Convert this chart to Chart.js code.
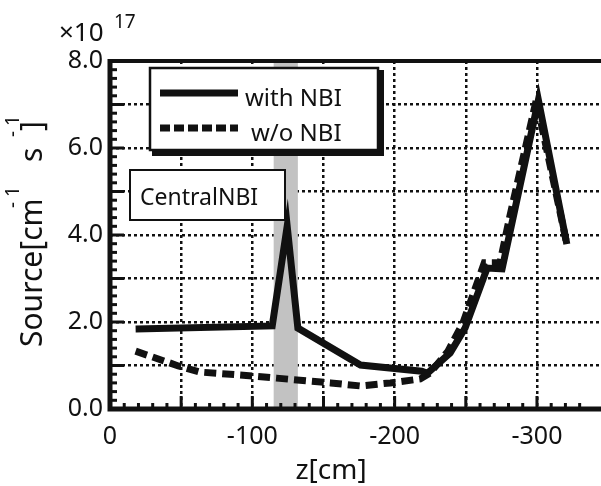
<!DOCTYPE html>
<html>
<head>
<meta charset="utf-8">
<script src="https://cdn.jsdelivr.net/npm/chart.js@4/dist/chart.umd.min.js"></script>
<style>
  body { margin: 0; background: #fff; }
</style>
</head>
<body>
<canvas id="chart" width="601" height="486"></canvas>
<script>
// source along z, in units of 1e17 cm^-1 s^-1
const zWith = [-18, -114, -124.5, -132, -176, -219, -223, -239, -249.5, -265, -275.5, -301, -321];
const sWith = [1.84, 1.91, 4.2, 1.86, 1.01, 0.87, 0.82, 1.29, 1.86, 3.24, 3.22, 7.1, 3.79];

const zWithout = [-18, -48, -63, -100, -117, -155, -176, -197, -218, -225, -237.5, -248, -263, -274, -281, -299.5, -321];
const sWithout = [1.33, 0.99, 0.85, 0.76, 0.71, 0.6, 0.53, 0.6, 0.69, 0.83, 1.33, 1.98, 3.36, 3.36, 4.44, 7.1, 3.79];

const seriesNames = ["with NBI", "w/o NBI"];
const xTickLabels = [0, -100, -200, -300];
const yTickLabels = [0, 2, 4, 6, 8];

// shaded central NBI region
const nbiBand = [-115, -132];
const nbiLabel = "CentralNBI";

const font = "'Noto Sans', 'DejaVu Sans', sans-serif";

function toPoints(xs, ys) {
  return xs.map((x, i) => ({ x: x, y: ys[i] }));
}
function isInt(v) {
  return Math.abs(v - Math.round(v)) < 1e-6;
}

const decor = {
  id: "decor",
  beforeDatasetsDraw(chart) {
    const { ctx, chartArea: a } = chart;
    const xs = chart.scales.x;
    const p1 = xs.getPixelForValue(nbiBand[0]);
    const p2 = xs.getPixelForValue(nbiBand[1]);
    ctx.save();
    ctx.fillStyle = "#c2c2c2";
    ctx.fillRect(Math.min(p1, p2), a.top, Math.abs(p2 - p1), a.bottom - a.top);
    ctx.restore();
  },
  afterDatasetsDraw(chart) {
    const ctx = chart.ctx;
    const ds = chart.data.datasets;
    ctx.save();
    // legend box with drop shadow
    ctx.fillStyle = "#111";
    ctx.fillRect(152, 70, 232, 86);
    ctx.fillStyle = "#fff";
    ctx.fillRect(150, 68, 228, 82);
    ctx.strokeStyle = "#111";
    ctx.lineWidth = 2.5;
    ctx.strokeRect(150, 68, 228, 82);

    ctx.lineWidth = ds[0].borderWidth;
    ctx.setLineDash([]);
    ctx.beginPath(); ctx.moveTo(160, 93); ctx.lineTo(238, 93); ctx.stroke();
    ctx.setLineDash([10, 4]);
    ctx.beginPath(); ctx.moveTo(160, 128); ctx.lineTo(238, 128); ctx.stroke();
    ctx.setLineDash([]);

    ctx.fillStyle = "#111";
    ctx.font = "24px " + font;
    ctx.textBaseline = "alphabetic";
    ctx.fillText(ds[0].label, 245, 106);
    ctx.fillText(ds[1].label, 251, 141);

    // central NBI label
    ctx.fillStyle = "#fff";
    ctx.fillRect(130, 170, 155, 50);
    ctx.strokeStyle = "#111";
    ctx.lineWidth = 2;
    ctx.strokeRect(130, 170, 155, 50);
    ctx.fillStyle = "#111";
    ctx.font = "23px " + font;
    ctx.fillText(nbiLabel, 140, 205);
    ctx.restore();
  },
  afterDraw(chart) {
    const { ctx, chartArea: a } = chart;
    const xs = chart.scales.x, ys = chart.scales.y;
    ctx.save();
    ctx.strokeStyle = "#111";
    ctx.fillStyle = "#111";

    // minor / major ticks on the inside
    ctx.lineWidth = 3;
    xs.ticks.forEach(t => {
      if (!isInt(t.value / 10)) return;
      const px = xs.getPixelForValue(t.value);
      const len = t.value % 50 === 0 ? 13 : 6;
      ctx.beginPath(); ctx.moveTo(px, a.bottom); ctx.lineTo(px, a.bottom - len); ctx.stroke();
    });
    ys.ticks.forEach(t => {
      const py = ys.getPixelForValue(t.value);
      const len = isInt(t.value) ? 14 : 7;
      ctx.beginPath(); ctx.moveTo(a.left, py); ctx.lineTo(a.left + len, py); ctx.stroke();
    });

    // frame
    ctx.lineWidth = 4;
    ctx.beginPath(); ctx.moveTo(a.left, a.top); ctx.lineTo(601, a.top); ctx.stroke();
    ctx.lineWidth = 5;
    ctx.beginPath();
    ctx.moveTo(a.left, a.top - 2); ctx.lineTo(a.left, a.bottom); ctx.lineTo(601, a.bottom);
    ctx.stroke();

    // exponent
    ctx.textBaseline = "alphabetic";
    ctx.font = "26px " + font;
    ctx.fillText("×10", 59, 41);
    ctx.font = "19px " + font;
    ctx.fillText("17", 114, 28);

    // x title
    ctx.font = "28px " + font;
    ctx.textAlign = "center";
    ctx.fillText("z[cm]", 331, 479);
    ctx.textAlign = "left";

    // y title, rotated, with superscripts
    function vText(str, size, bx, sy, spacing) {
      ctx.save();
      ctx.translate(bx, sy);
      ctx.rotate(-Math.PI / 2);
      ctx.font = size + "px " + font;
      ctx.letterSpacing = spacing || "0px";
      ctx.fillText(str, 0, 0);
      ctx.restore();
    }
    vText("Source[cm", 30, 42, 347);
    vText("-1", 19, 19, 208, "5px");
    vText("s", 30, 42, 162);
    vText("-1", 19, 19, 137, "5px");
    vText("]", 30, 42, 131);
    ctx.restore();
  }
};

new Chart(document.getElementById("chart"), {
  type: "line",
  data: {
    datasets: [
      {
        label: seriesNames[0],
        data: toPoints(zWith, sWith),
        borderColor: "#111",
        borderWidth: 7,
        pointRadius: 0,
        tension: 0,
        fill: false
      },
      {
        label: seriesNames[1],
        data: toPoints(zWithout, sWithout),
        borderColor: "#111",
        borderWidth: 7,
        borderDash: [12, 6],
        pointRadius: 0,
        tension: 0,
        fill: false
      }
    ]
  },
  options: {
    responsive: false,
    animation: false,
    layout: { autoPadding: false, padding: { top: 61, right: 0, left: 0, bottom: 0 } },
    plugins: { legend: { display: false }, tooltip: { enabled: false } },
    scales: {
      x: {
        type: "linear",
        reverse: true,
        min: -345,
        max: 0,
        afterFit(s) { s.height = 77; s.paddingLeft = 0; s.paddingRight = 0; },
        ticks: {
          stepSize: 10,
          autoSkip: false,
          maxRotation: 0,
          padding: 13,
          color: "#111",
          font: { family: font, size: 25 },
          callback: v => xTickLabels.includes(v) ? String(v) : ""
        },
        grid: {
          drawTicks: false,
          lineWidth: 2.5,
          color: c => (c.tick && c.tick.value % 50 === 0 && c.tick.value !== 0) ? "#111" : "rgba(0,0,0,0)"
        },
        border: { display: false, dash: [3, 3] }
      },
      y: {
        min: 0,
        max: 8,
        afterFit(s) { s.width = 110; s.paddingTop = 0; s.paddingBottom = 0; },
        ticks: {
          stepSize: 0.2,
          autoSkip: false,
          padding: 7,
          color: "#111",
          font: { family: font, size: 25 },
          callback: v => (isInt(v) && yTickLabels.includes(Math.round(v))) ? v.toFixed(1) : ""
        },
        grid: {
          drawTicks: false,
          lineWidth: 2.5,
          color: c => (c.tick && isInt(c.tick.value) && c.tick.value > 0 && c.tick.value < 8) ? "#111" : "rgba(0,0,0,0)"
        },
        border: { display: false, dash: [3, 3] }
      }
    }
  },
  plugins: [decor]
});
</script>
</body>
</html>
